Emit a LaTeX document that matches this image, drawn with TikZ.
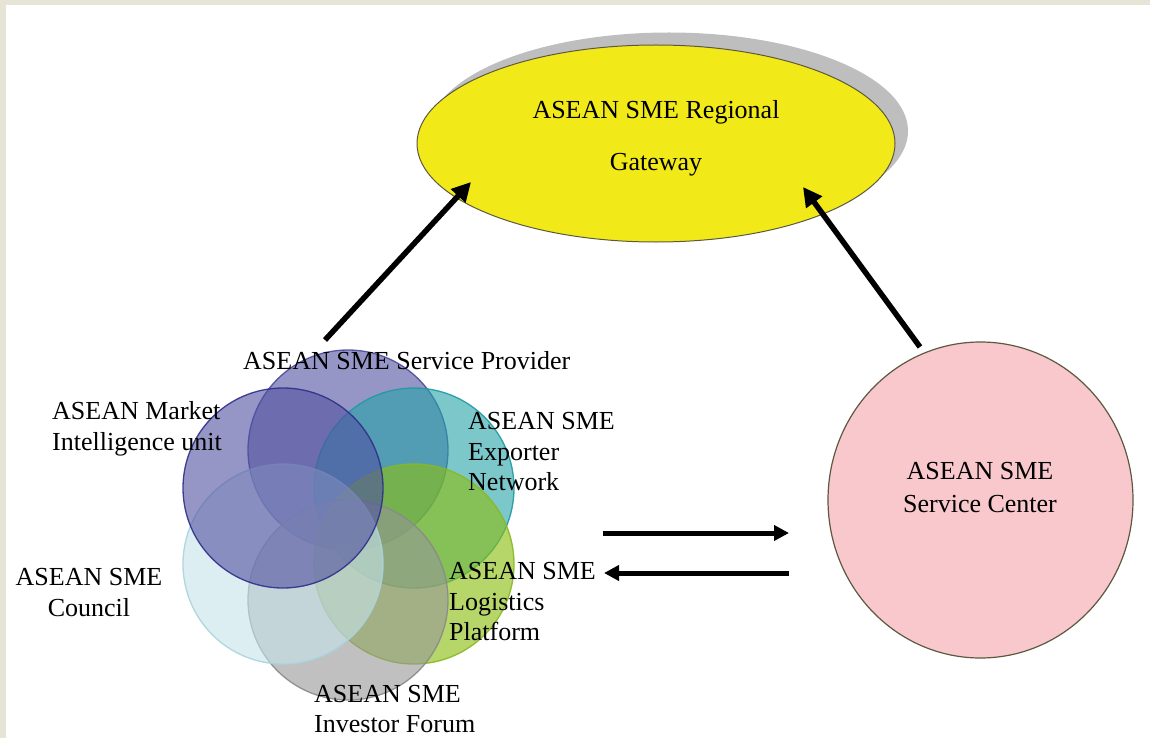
\documentclass[tikz,border=0pt]{standalone}
\usepackage{fontspec}
\setmainfont{Liberation Serif}
\usetikzlibrary{shapes.geometric,arrows.meta}
\definecolor{bgbeige}{HTML}{E6E4D4}
\definecolor{gwyellow}{HTML}{F2EA18}
\definecolor{gwshade}{HTML}{BEBEBE}
\definecolor{scpink}{HTML}{F8C8CC}
\definecolor{scedge}{HTML}{5E5840}
\definecolor{spfill}{HTML}{5050A0}
\definecolor{spedge}{HTML}{4A4A9C}
\definecolor{mifill}{HTML}{5050A0}
\definecolor{miedge}{HTML}{2E2E8A}
\definecolor{exfill}{HTML}{25A3A7}
\definecolor{exedge}{HTML}{1E9AA2}
\definecolor{lofill}{HTML}{8CBE10}
\definecolor{loedge}{HTML}{88B820}
\definecolor{cofill}{HTML}{C5E3E9}
\definecolor{coedge}{HTML}{A8D4DE}
\definecolor{infill}{HTML}{969696}
\definecolor{inedge}{HTML}{8A8A8A}
\begin{document}
\begin{tikzpicture}[x=1pt,y=-1pt,
  venn/.style={circle, minimum size=200pt, inner sep=0pt, line width=1.3pt, fill opacity=0.6, draw opacity=0.9},
  lbl/.style={font=\fontsize{26}{30.5}\selectfont, inner sep=0pt, align=left, anchor=west},
  clbl/.style={font=\fontsize{26}{30.5}\selectfont, inner sep=0pt, align=center},
  bigarrow/.style={line width=5.5pt, -{Triangle[length=19pt,width=19pt]}},
  flatarrow/.style={line width=5pt, -{Triangle[length=15pt,width=15pt]}}
]
\useasboundingbox (0,0) rectangle (1150,738);
\fill[bgbeige] (0,0) rectangle (1150,738);
\fill[white] (6,5) rectangle (1150,738);

% gateway
\node[ellipse, fill=gwshade, minimum width=478pt, minimum height=197pt, inner sep=0pt] (gwshadow) at (669,131) {};
\node[ellipse, fill=gwyellow, draw=scedge, line width=1pt, minimum width=478pt, minimum height=197pt, inner sep=0pt] (gw) at (656,143.5) {};
\node[clbl, font=\fontsize{26}{52}\selectfont] (gwlabel) at (656,138) {ASEAN SME Regional\\Gateway};

% service center
\node[ellipse, fill=scpink, draw=scedge, line width=1.2pt, minimum width=305pt, minimum height=316pt, inner sep=0pt] (sc) at (980.5,500) {};
\node[clbl, font=\fontsize{26}{33}\selectfont] (sclabel) at (980,488) {ASEAN SME\\Service Center};

% venn cluster
\node[venn, fill=spfill, draw=spedge] (sp) at (348,450) {};
\node[venn, fill=exfill, draw=exedge] (ex) at (414,488) {};
\node[venn, fill=lofill, draw=loedge, fill opacity=0.62] (lo) at (414,564) {};
\node[venn, fill=infill, draw=inedge] (in) at (348,600) {};
\node[venn, fill=cofill, draw=coedge] (co) at (283,564) {};
\node[venn, fill=mifill, draw=miedge] (mi) at (283,488) {};

% labels
\node[lbl] (splabel) at (243,361) {ASEAN SME Service Provider};
\node[lbl] (milabel) at (52,429) {ASEAN Market\\Intelligence unit};
\node[lbl] (exlabel) at (468,452) {ASEAN SME\\Exporter\\Network};
\node[clbl] (colabel) at (89,592.5) {ASEAN SME\\Council};
\node[lbl] (lolabel) at (449,602) {ASEAN SME\\Logistics\\Platform};
\node[lbl] (inlabel) at (314,709) {ASEAN SME\\Investor Forum};

% arrows
\coordinate (l0) at (325,340);
\coordinate (l1) at (471,182);
\coordinate (r0) at (920,347);
\coordinate (r1) at (803,187);
\coordinate (h0) at (603,533);
\coordinate (h1) at (789,533);
\coordinate (h2) at (789,573);
\coordinate (h3) at (604,573);
\draw[bigarrow] (l0) -- (l1);
\draw[bigarrow] (r0) -- (r1);
\draw[flatarrow] (h0) -- (h1);
\draw[flatarrow] (h2) -- (h3);
\end{tikzpicture}
\end{document}
